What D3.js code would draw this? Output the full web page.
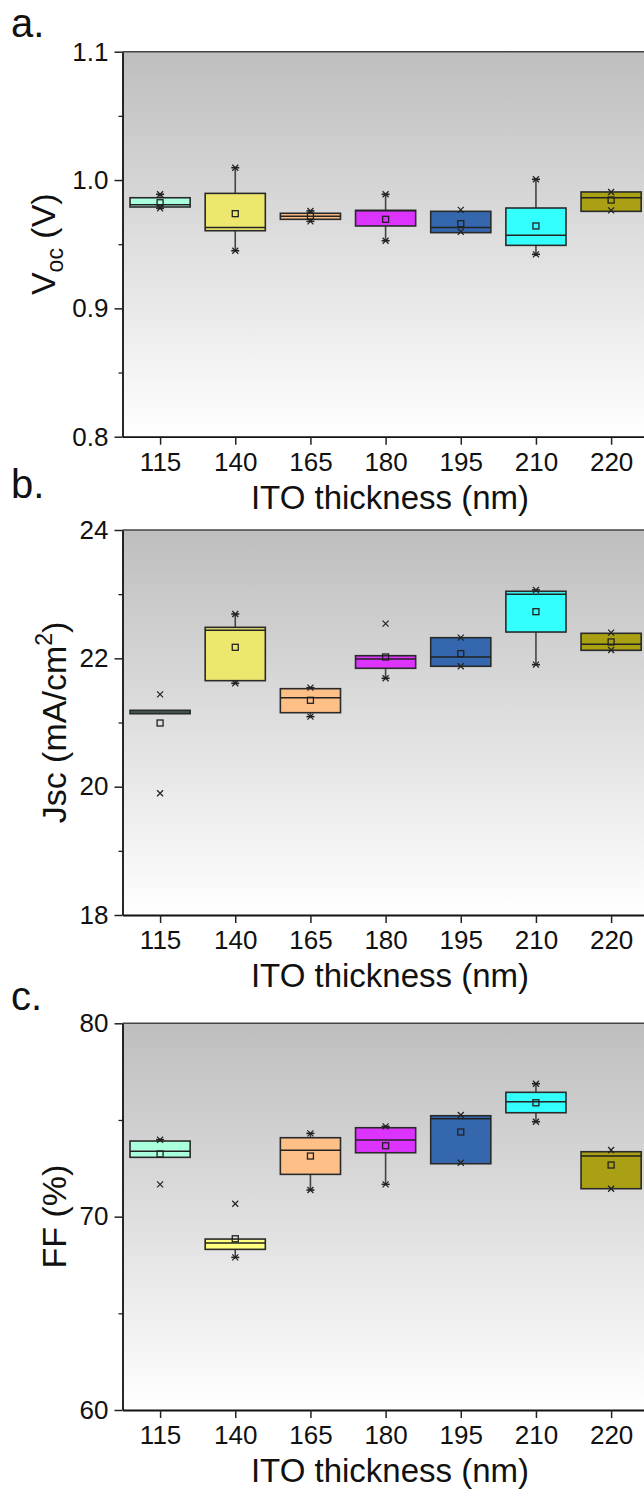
<!DOCTYPE html>
<html><head><meta charset="utf-8">
<script src="https://cdn.jsdelivr.net/npm/d3@7"></script>
<style>
body{margin:0;background:#fff}
svg{display:block}
text{font-family:"Liberation Sans",Arial,sans-serif;fill:#111}
</style>
</head><body>
<svg id="chart" width="644" height="1489"></svg>
<script>
// ---------- data ----------
const categories = ["115","140","165","180","195","210","220"];
const boxColors = ["#aaffdd","#ede76d","#ffc088","#dd33ff","#3467ae","#33ffff","#a9a013"];
const ffColors  = ["#aaffdd","#ffff80","#ffc088","#dd33ff","#3467ae","#33ffff","#a9a013"];

// Voc (V)
const vocQ3     = [0.9862, 0.9896, 0.9741, 0.9764, 0.9756, 0.9782, 0.9907];
const vocMedian = [0.9808, 0.9631, 0.9717, 0.9760, 0.9631, 0.9569, 0.9862];
const vocQ1     = [0.9790, 0.9605, 0.9694, 0.9642, 0.9590, 0.9491, 0.9756];
const vocMean   = [0.9823, 0.9738, 0.9719, 0.9694, 0.9660, 0.9642, 0.9844];
const vocWhiskerHigh = [0.9889, 1.0096, 0.9759, 0.9889, 0.9756, 1.0006, 0.9907];
const vocWhiskerLow  = [0.9780, 0.9449, 0.9678, 0.9527, 0.9590, 0.9421, 0.9756];
const vocMarks = [[0.9889,0.9780],[1.0096,0.9449],[0.9759,0.9678],[0.9889,0.9527],[0.9767,0.9597],[1.0006,0.9421],[0.9907,0.9764]];
const vocTicks = [0.8, 0.9, 1.0, 1.1];
const vocMinor = [0.85, 0.95, 1.05];

// Jsc (mA/cm2)
const jscQ3     = [21.190, 22.483, 21.527, 22.041, 22.322, 23.045, 22.390];
const jscMedian = [21.164, 22.436, 21.387, 21.990, 22.021, 22.998, 22.218];
const jscQ1     = [21.137, 21.652, 21.153, 21.845, 21.876, 22.410, 22.125];
const jscMean   = [20.992, 22.172, 21.346, 22.021, 22.073, 22.727, 22.255];
const jscWhiskerHigh = [21.190, 22.691, 21.543, 22.041, 22.322, 23.065, 22.390];
const jscWhiskerLow  = [21.137, 21.611, 21.091, 21.689, 21.876, 21.901, 22.125];
const jscMarks = [[21.439,19.897],[22.691,21.611],[21.543,21.091],[22.540,21.689],[22.322,21.876],[23.065,21.901],[22.40,22.13]];
const jscTicks = [18, 20, 22, 24];
const jscMinor = [19, 21, 23];

// FF (%)
const ffQ3     = [73.911, 68.841, 74.082, 74.599, 75.220, 76.430, 73.358];
const ffMedian = [73.378, 68.634, 73.430, 73.963, 75.065, 75.944, 73.135];
const ffQ1     = [73.068, 68.308, 72.188, 73.306, 72.737, 75.375, 71.445];
const ffMean   = [73.239, 68.857, 73.135, 73.668, 74.377, 75.890, 72.670];
const ffWhiskerHigh = [73.978, 68.841, 74.309, 74.670, 75.220, 76.875, 73.358];
const ffWhiskerLow  = [73.068, 67.894, 71.376, 71.671, 72.737, 74.910, 71.445];
const ffMarks = [[73.978,71.671],[70.667,67.894],[74.309,71.376],[74.670,71.671],[75.256,72.790],[76.875,74.910],[73.445,71.445]];
const ffTicks = [60, 70, 80];
const ffMinor = [65, 75];

const xTitle = "ITO thickness (nm)";

// ---------- drawing ----------
const svg = d3.select("#chart");
const FONT = "Liberation Sans, Arial, sans-serif";
const plotLeft = 122.5, plotRight = 648.7;

const defs = svg.append("defs");
const grad = defs.append("linearGradient").attr("id","bg").attr("x1",0).attr("y1",0).attr("x2",0).attr("y2",1);
grad.append("stop").attr("offset","0%").attr("stop-color","#bebebe");
grad.append("stop").attr("offset","100%").attr("stop-color","#ffffff");

const x = d3.scalePoint().domain(categories).range([plotLeft, plotRight]).padding(0.5);
const boxW = x.step() * 0.8;

function drawPanel(p) {
  const y = d3.scaleLinear().domain(p.domain).range([p.bottom, p.top]);
  const g = svg.append("g");

  g.append("rect").attr("x", plotLeft).attr("y", p.top)
    .attr("width", plotRight - plotLeft).attr("height", p.bottom - p.top)
    .attr("fill", "url(#bg)");

  g.append("line").attr("x1", plotLeft).attr("x2", plotRight)
    .attr("y1", p.top).attr("y2", p.top).attr("stroke", "#444").attr("stroke-width", 1.5);

  const minorAx = g.append("g").attr("transform", `translate(${plotLeft},0)`)
    .call(d3.axisLeft(y).tickValues(p.minor).tickSize(4).tickFormat(""));
  minorAx.select(".domain").remove();
  minorAx.selectAll("line").attr("stroke", "#222").attr("stroke-width", 1.3);

  const yAx = g.append("g").attr("transform", `translate(${plotLeft},0)`)
    .call(d3.axisLeft(y).tickValues(p.ticks).tickSize(8).tickSizeOuter(0).tickPadding(6).tickFormat(p.fmt));
  yAx.attr("font-size", 26).attr("font-family", FONT);
  yAx.selectAll("line").attr("stroke", "#222").attr("stroke-width", 1.5);
  yAx.select(".domain").attr("stroke", "#111").attr("stroke-width", 1.8);
  yAx.selectAll("text").attr("fill", "#111");

  const xAx = g.append("g").attr("transform", `translate(0,${p.bottom})`)
    .call(d3.axisBottom(x).tickSize(8).tickSizeOuter(0).tickPadding(8));
  xAx.attr("font-size", 26).attr("font-family", FONT);
  xAx.selectAll("line").attr("stroke", "#222").attr("stroke-width", 1.5);
  xAx.select(".domain").attr("stroke", "#111").attr("stroke-width", 1.8);
  xAx.selectAll("text").attr("fill", "#111");

  categories.forEach((c, i) => {
    const cx = x(c);
    const bg = g.append("g");
    if (y(p.wHi[i]) < y(p.q3[i]) - 0.5) {
      bg.append("line").attr("x1", cx).attr("x2", cx).attr("y1", y(p.q3[i])).attr("y2", y(p.wHi[i]))
        .attr("stroke", "#444").attr("stroke-width", 1.6);
      bg.append("line").attr("x1", cx - 4).attr("x2", cx + 4).attr("y1", y(p.wHi[i])).attr("y2", y(p.wHi[i]))
        .attr("stroke", "#222").attr("stroke-width", 1.6);
    }
    if (y(p.wLo[i]) > y(p.q1[i]) + 0.5) {
      bg.append("line").attr("x1", cx).attr("x2", cx).attr("y1", y(p.q1[i])).attr("y2", y(p.wLo[i]))
        .attr("stroke", "#444").attr("stroke-width", 1.6);
      bg.append("line").attr("x1", cx - 4).attr("x2", cx + 4).attr("y1", y(p.wLo[i])).attr("y2", y(p.wLo[i]))
        .attr("stroke", "#222").attr("stroke-width", 1.6);
    }
    bg.append("rect").attr("x", cx - boxW / 2).attr("y", y(p.q3[i]))
      .attr("width", boxW).attr("height", Math.max(1, y(p.q1[i]) - y(p.q3[i])))
      .attr("fill", p.colors[i]).attr("stroke", "#2a2a2a").attr("stroke-width", 1.6);
    bg.append("line").attr("x1", cx - boxW / 2).attr("x2", cx + boxW / 2)
      .attr("y1", y(p.med[i])).attr("y2", y(p.med[i]))
      .attr("stroke", "#222").attr("stroke-width", 1.5);
    p.marks[i].forEach(v => {
      const yy = y(v), s = 3;
      bg.append("path").attr("d", `M${cx - s},${yy - s}L${cx + s},${yy + s}M${cx - s},${yy + s}L${cx + s},${yy - s}`)
        .attr("stroke", "#222").attr("stroke-width", 1.2).attr("fill", "none");
    });
    bg.append("rect").attr("x", cx - 3).attr("y", y(p.mean[i]) - 3).attr("width", 6).attr("height", 6)
      .attr("fill", "none").attr("stroke", "#222").attr("stroke-width", 1.3);
  });

  svg.append("text").attr("x", 11).attr("y", p.letterY).attr("font-size", 40).text(p.letter);

  const yl = svg.append("text").attr("font-size", 34).attr("text-anchor", "middle")
    .attr("transform", `translate(${p.ylabelX},${(p.top + p.bottom) / 2}) rotate(-90)`);
  p.ylabel(yl);

  svg.append("text").attr("x", 390).attr("y", p.bottom + 72).attr("font-size", 33)
    .attr("text-anchor", "middle").text(xTitle);
}

drawPanel({
  top: 51.7, bottom: 436.7, domain: [0.8, 1.1], ticks: vocTicks, minor: vocMinor, fmt: d3.format(".1f"),
  q1: vocQ1, med: vocMedian, q3: vocQ3, mean: vocMean, wLo: vocWhiskerLow, wHi: vocWhiskerHigh, marks: vocMarks,
  colors: boxColors, letter: "a.", letterY: 37, ylabelX: 55,
  ylabel: t => { t.append("tspan").text("V"); t.append("tspan").attr("font-size", 23).attr("dy", 8).text("oc"); t.append("tspan").attr("dy", -8).text(" (V)"); }
});
drawPanel({
  top: 530, bottom: 915, domain: [18, 24], ticks: jscTicks, minor: jscMinor, fmt: d3.format("d"),
  q1: jscQ1, med: jscMedian, q3: jscQ3, mean: jscMean, wLo: jscWhiskerLow, wHi: jscWhiskerHigh, marks: jscMarks,
  colors: boxColors, letter: "b.", letterY: 498, ylabelX: 66,
  ylabel: t => { t.append("tspan").text("Jsc (mA/cm"); t.append("tspan").attr("font-size", 23).attr("dy", -14).text("2"); t.append("tspan").attr("dy", 14).text(")"); }
});
drawPanel({
  top: 1023.3, bottom: 1410, domain: [60, 80], ticks: ffTicks, minor: ffMinor, fmt: d3.format("d"),
  q1: ffQ1, med: ffMedian, q3: ffQ3, mean: ffMean, wLo: ffWhiskerLow, wHi: ffWhiskerHigh, marks: ffMarks,
  colors: ffColors, letter: "c.", letterY: 1010, ylabelX: 66,
  ylabel: t => { t.text("FF (%)"); }
});
</script>
</body></html>
